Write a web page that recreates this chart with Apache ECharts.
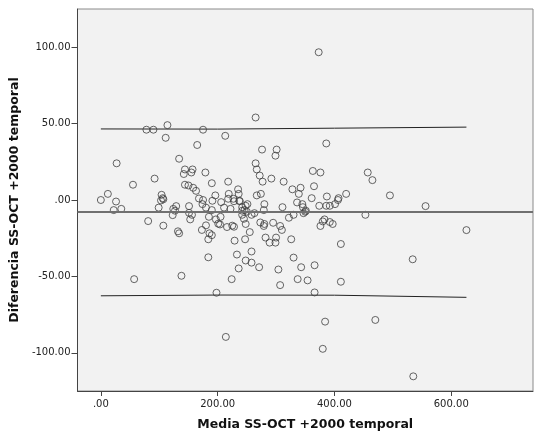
<!DOCTYPE html>
<html>
<head>
<meta charset="utf-8">
<script src="https://cdn.jsdelivr.net/npm/echarts@6/dist/echarts.min.js"></script>
<style>
html,body{margin:0;padding:0;background:#fff;}
#chart{width:537px;height:439px;}
</style>
</head>
<body>
<div id="chart"></div>
<script>
const meanVals = [78,90,114,175,111,213,373,265,
165,27,134,144,157,142,155,179,92,55,190,218,144,150,158,163,235,12,0,26,104,106,103,107,99,196,219,168,175,191,206,218,227,237,151,174,180,190,129,124,127,22,35,211,222,242,151,156,153,123,185,197,205,201,204,180,216,225,228,81,107,173,186,190,132,134,184,229,233,184,236,
57,138,224,198,214,
386,276,301,299,265,267,272,277,292,313,363,376,457,465,365,328,342,339,420,495,236,267,274,238,251,248,280,279,311,361,387,407,406,401,392,386,374,336,345,346,350,347,330,322,453,383,392,397,376,380,242,246,250,242,258,263,245,248,273,280,279,295,307,310,255,247,282,300,289,299,326,411,258,330,248,258,271,343,366,304,534,
556,626,354,411,366,384,470,380,535,307,337,228,351];
const diffVals = [46,46,49,46,40.7,42,96.7,54,
36,24,27,20,20,17,18,18,14,10,11,12,10,9.5,8,6,7,4,0,-1,3.4,1.2,-0.3,0.5,-5,3,4,1,0,-0.5,-1.4,0.8,0.8,-0.5,-4,-2.7,-5,-6.6,-4,-5.8,-7,-6.6,-5.8,-5,-5.8,-7,-8.4,-9.7,-12.7,-9.9,-11,-12.7,-11,-15.5,-16,-16.6,-17.7,-16.8,-17.5,-13.8,-16.8,-19.6,-21.8,-23,-20.5,-21.8,-25.7,-26.6,-35.7,-37.5,-44.8,
-51.8,-49.6,-51.8,-60.7,-89.6,
37,33,33,29,24,20,16,12,14,12,19,18,18,13,9,7,8,4,4,3,4,3,4,-0.8,-2.7,-3.8,-2.7,-6.6,-4.7,1.2,2.3,1.2,0,-2.7,-3.8,-3.8,-3.8,-1.6,-2.7,-4.7,-7.7,-8.6,-9.7,-11.6,-9.7,-12.7,-14.4,-15.7,-17,-14,-4.7,-6.6,-7.7,-9.7,-9.7,-8.6,-12.3,-15.7,-14.7,-15.7,-17,-14.9,-17,-19.6,-21,-25.7,-24.6,-24.6,-27.9,-27.9,-25.7,-28.8,-33.7,-37.7,-39.6,-41,-44,-44,-42.7,-45.5,-38.8,
-4,-19.7,-52.6,-53.5,-60.5,-79.6,-78.5,-97.4,-115.4,-55.7,-51.8,-0.8,-7];
// Limits of agreement and mean difference
const loaX = [0, 200, 400, 626];
const upperLoA = [46.5, 46.4, 47.0, 47.7];
const lowerLoA = [-62.7, -62.2, -62.3, -63.7];
const meanDiff = -8;
// Tick labels
const xTicks = [0, 200, 400, 600];
const yTicks = [-100, -50, 0, 50, 100];

const fmt = v => (v === 0 ? '.00' : v.toFixed(2));
const points = meanVals.map((m, i) => [m, diffVals[i]]);

const chart = echarts.init(document.getElementById('chart'));
const font = 'DejaVu Sans';
chart.setOption({
  animation: false,
  backgroundColor: '#ffffff',
  grid: {left: 73, right: 4, top: 9, bottom: 48, show: true,
    backgroundColor: '#f2f2f2', borderColor: '#8a8a8a', borderWidth: 1},
  xAxis: {
    type: 'value', min: -40, max: 740,
    splitLine: {show: false},
    axisLine: {show: true, onZero: false, lineStyle: {color: '#444', width: 1}},
    axisTick: {show: true, length: 5, customValues: xTicks, lineStyle: {color: '#444'}},
    axisLabel: {customValues: xTicks, formatter: fmt, margin: 8,
      fontFamily: font, fontSize: 10, color: '#222'},
    name: 'Media SS-OCT +2000 temporal', nameLocation: 'middle', nameGap: 27,
    nameTextStyle: {fontFamily: font, fontSize: 12.5, fontWeight: 'bold', color: '#111'}
  },
  yAxis: {
    type: 'value', min: -125, max: 125,
    splitLine: {show: false},
    axisLine: {show: true, onZero: false, lineStyle: {color: '#444', width: 1}},
    axisTick: {show: true, length: 6, customValues: yTicks, lineStyle: {color: '#444'}},
    axisLabel: {customValues: yTicks, formatter: fmt, margin: 7,
      fontFamily: font, fontSize: 10, color: '#222'},
    name: 'Diferencia SS-OCT +2000 temporal', nameLocation: 'middle', nameGap: 50,
    nameRotate: 90,
    nameTextStyle: {fontFamily: font, fontSize: 12.5, fontWeight: 'bold', color: '#111'}
  },
  series: [
    {
      type: 'line', data: loaX.map((x, i) => [x, upperLoA[i]]), symbol: 'none',
      lineStyle: {color: '#222', width: 1}, z: 2
    },
    {
      type: 'line', data: loaX.map((x, i) => [x, lowerLoA[i]]), symbol: 'none',
      lineStyle: {color: '#222', width: 1}, z: 2
    },
    {
      type: 'scatter', data: points, symbol: 'circle', symbolSize: 7,
      itemStyle: {color: 'rgba(0,0,0,0)', borderColor: '#404040', borderWidth: 1},
      z: 3,
      markLine: {
        silent: true, symbol: 'none', label: {show: false},
        lineStyle: {color: '#707070', width: 2, type: 'solid'},
        data: [{yAxis: meanDiff}]
      }
    }
  ]
});
</script>
</body>
</html>
